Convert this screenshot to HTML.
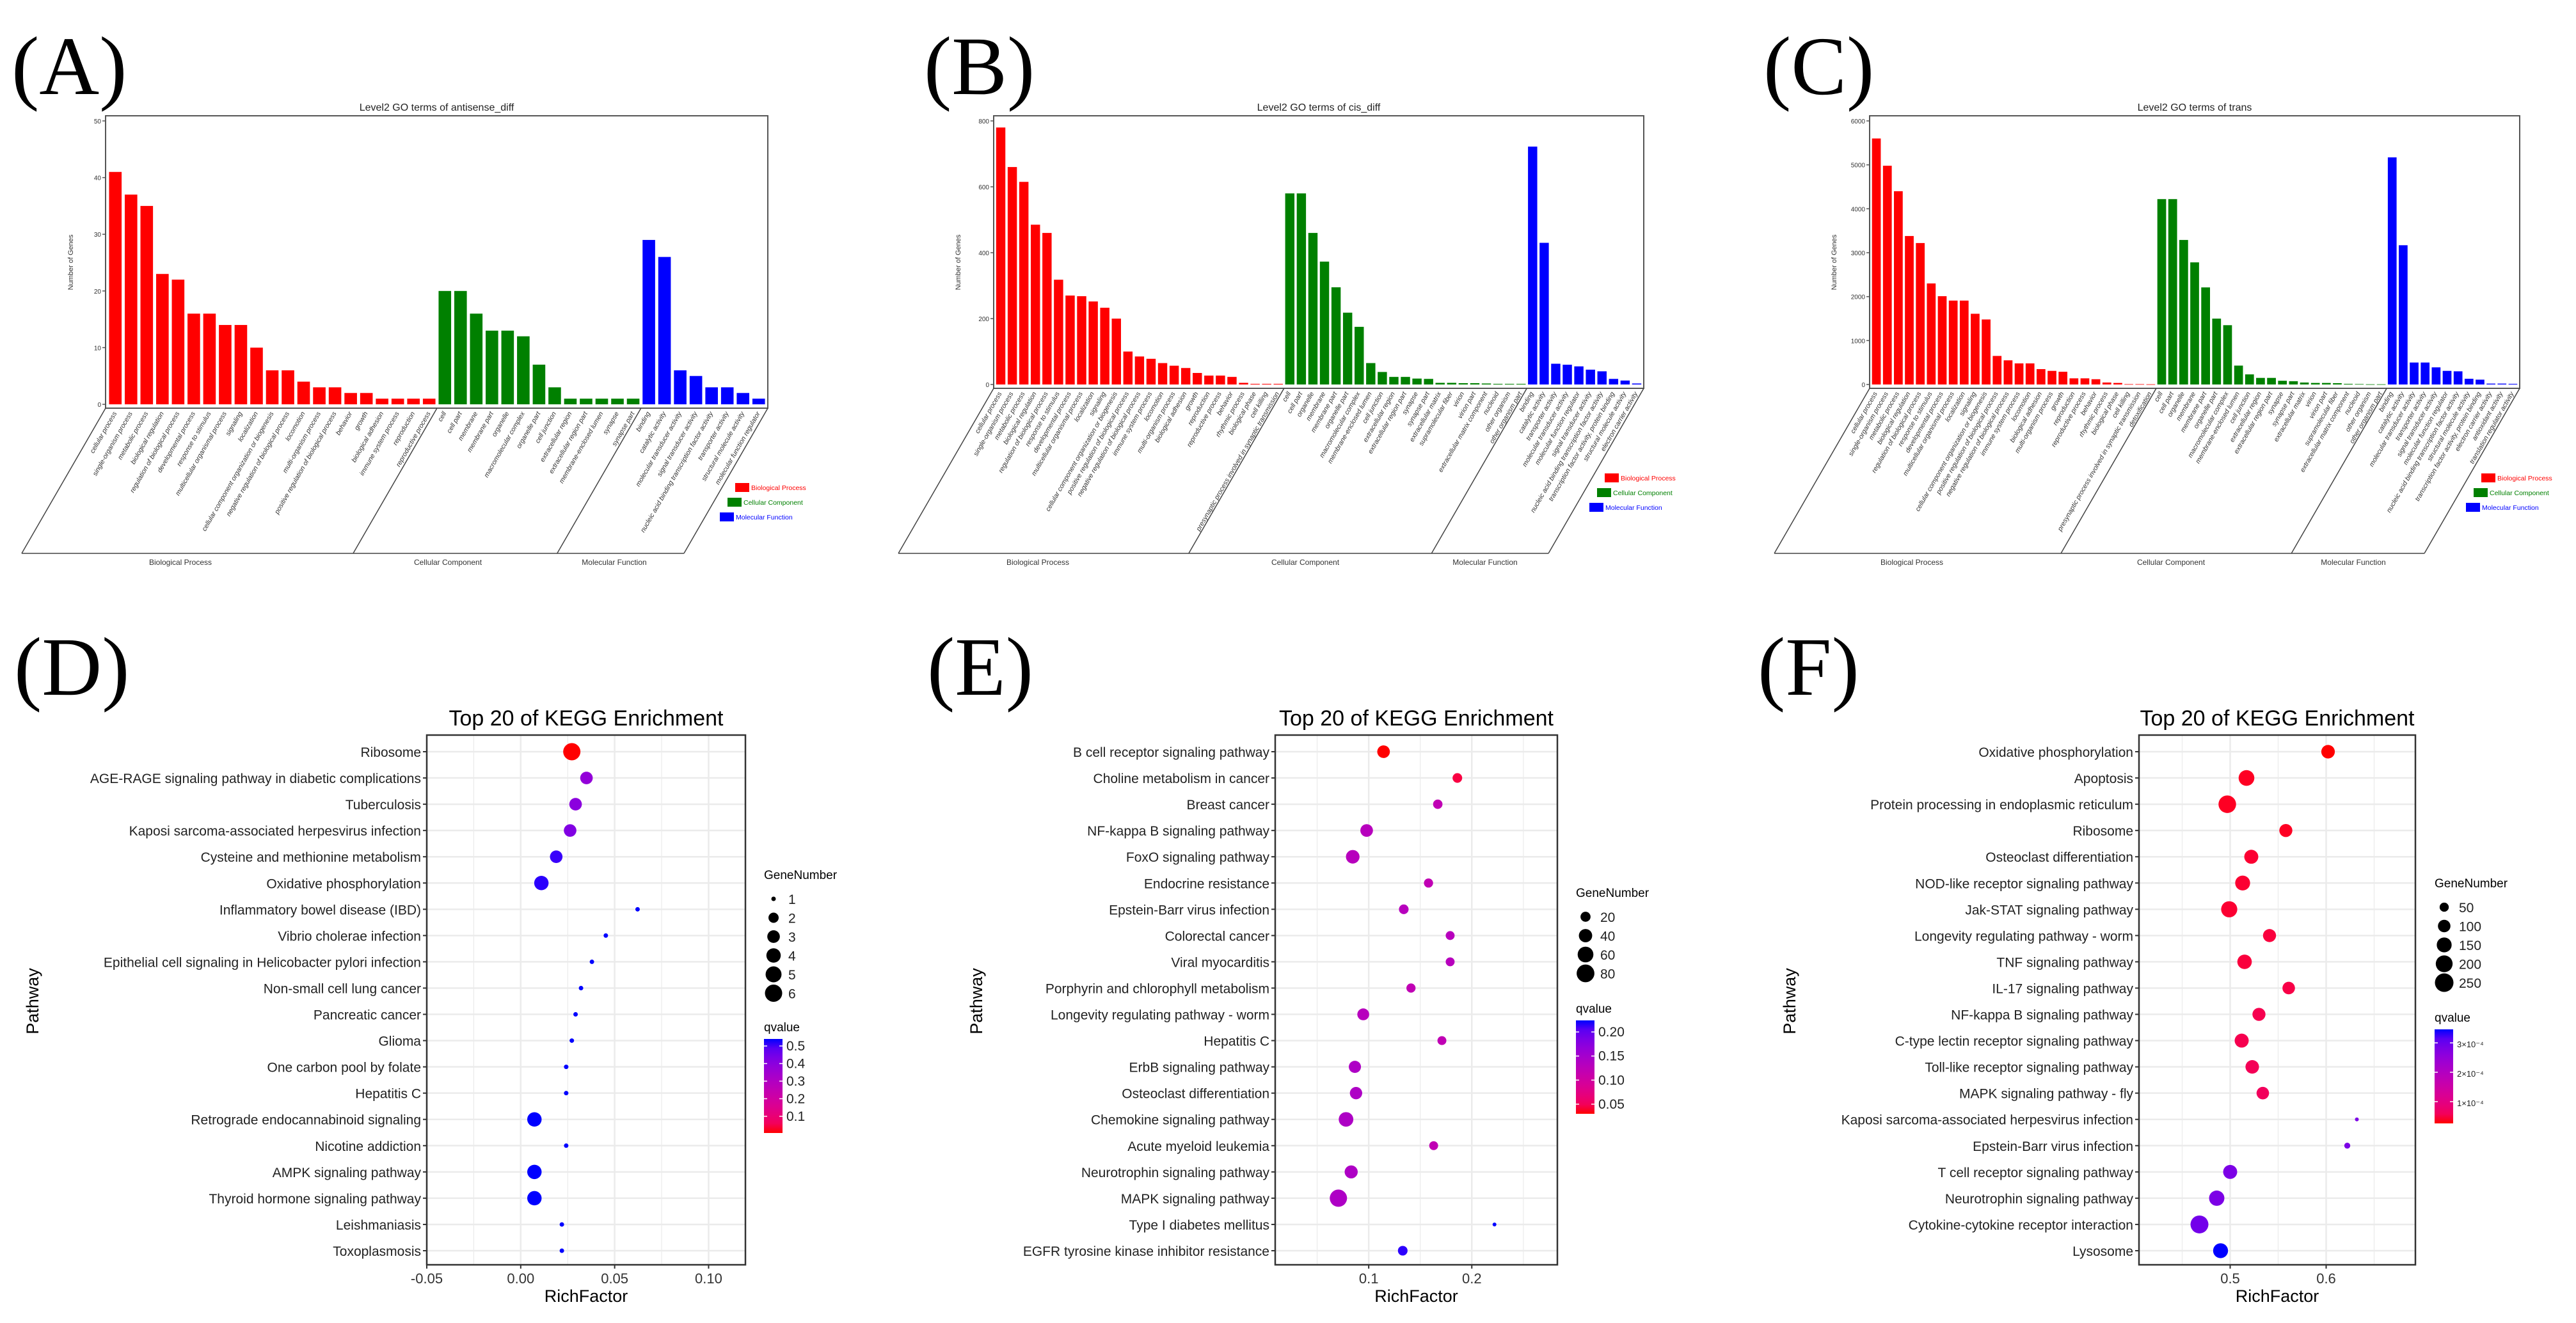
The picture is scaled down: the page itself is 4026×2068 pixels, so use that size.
<!DOCTYPE html>
<html><head><meta charset="utf-8"><style>
html,body{margin:0;padding:0;background:#fff;}
svg{display:block;font-family:"Liberation Sans",Arial,sans-serif;}
</style></head><body>
<svg id="fig" xmlns="http://www.w3.org/2000/svg" width="4026" height="2068" viewBox="0 0 4026 2068">
<rect x="0" y="0" width="4026" height="2068" fill="#fff"/>
</svg>
<script>
// ---------- GO panel data ----------
const goA_bp = [41,37,35,23,22,16,16,14,14,10,6,6,4,3,3,2,2,1,1,1,1];
const goA_cc = [20,20,16,13,13,12,7,3,1,1,1,1,1];
const goA_mf = [29,26,6,5,3,3,2,1];
const goA_bpLab = ["cellular process","single-organism process","metabolic process","biological regulation","regulation of biological process","developmental process","response to stimulus","multicellular organismal process","signaling","localization","cellular component organization or biogenesis","negative regulation of biological process","locomotion","multi-organism process","positive regulation of biological process","behavior","growth","biological adhesion","immune system process","reproduction","reproductive process"];
const goA_ccLab = ["cell","cell part","membrane","membrane part","organelle","macromolecular complex","organelle part","cell junction","extracellular region","extracellular region part","membrane-enclosed lumen","synapse","synapse part"];
const goA_mfLab = ["binding","catalytic activity","molecular transducer activity","signal transducer activity","nucleic acid binding transcription factor activity","transporter activity","structural molecule activity","molecular function regulator"];
const goA_ticks = [0,10,20,30,40,50];

const goB_bp = [780,660,615,485,460,318,270,268,252,233,200,100,85,78,65,57,50,35,27,27,23,5,2,2,2];
const goB_cc = [580,580,460,373,295,218,175,65,38,23,23,18,17,5,5,4,4,3,2,2,2];
const goB_mf = [722,430,63,60,55,45,40,17,12,3];
const goB_bpLab = ["cellular process","single-organism process","metabolic process","biological regulation","regulation of biological process","response to stimulus","developmental process","multicellular organismal process","localization","signaling","cellular component organization or biogenesis","positive regulation of biological process","negative regulation of biological process","immune system process","locomotion","multi-organism process","biological adhesion","growth","reproduction","reproductive process","behavior","rhythmic process","biological phase","cell killing","presynaptic process involved in synaptic transmission"];
const goB_ccLab = ["cell","cell part","organelle","membrane","membrane part","organelle part","macromolecular complex","membrane-enclosed lumen","cell junction","extracellular region","extracellular region part","synapse","synapse part","extracellular matrix","supramolecular fiber","virion","virion part","extracellular matrix component","nucleoid","other organism","other organism part"];
const goB_mfLab = ["binding","catalytic activity","transporter activity","molecular transducer activity","molecular function regulator","signal transducer activity","nucleic acid binding transcription factor activity","transcription factor activity, protein binding","structural molecule activity","electron carrier activity"];
const goB_ticks = [0,200,400,600,800];

const goC_bp = [5600,4980,4400,3380,3220,2300,2010,1910,1910,1610,1480,650,550,480,480,350,310,290,140,140,120,45,35,8,8,5];
const goC_cc = [4220,4220,3290,2780,2210,1500,1350,430,230,150,150,85,75,45,35,35,30,15,10,5,5];
const goC_mf = [5170,3170,500,500,390,310,300,130,110,20,20,15];
const goC_bpLab = ["cellular process","single-organism process","metabolic process","biological regulation","regulation of biological process","response to stimulus","developmental process","multicellular organismal process","localization","signaling","cellular component organization or biogenesis","positive regulation of biological process","negative regulation of biological process","immune system process","locomotion","biological adhesion","multi-organism process","growth","reproduction","reproductive process","behavior","rhythmic process","biological phase","cell killing","presynaptic process involved in synaptic transmission","detoxification"];
const goC_ccLab = ["cell","cell part","organelle","membrane","membrane part","organelle part","macromolecular complex","membrane-enclosed lumen","cell junction","extracellular region","extracellular region part","synapse","synapse part","extracellular matrix","virion","virion part","supramolecular fiber","extracellular matrix component","nucleoid","other organism","other organism part"];
const goC_mfLab = ["binding","catalytic activity","molecular transducer activity","transporter activity","signal transducer activity","molecular function regulator","nucleic acid binding transcription factor activity","structural molecule activity","transcription factor activity, protein binding","electron carrier activity","antioxidant activity","translation regulator activity"];
const goC_ticks = [0,1000,2000,3000,4000,5000,6000];

// ---------- KEGG panel data ----------
const kD_path = ["Ribosome","AGE-RAGE signaling pathway in diabetic complications","Tuberculosis","Kaposi sarcoma-associated herpesvirus infection","Cysteine and methionine metabolism","Oxidative phosphorylation","Inflammatory bowel disease (IBD)","Vibrio cholerae infection","Epithelial cell signaling in Helicobacter pylori infection","Non-small cell lung cancer","Pancreatic cancer","Glioma","One carbon pool by folate","Hepatitis C","Retrograde endocannabinoid signaling","Nicotine addiction","AMPK signaling pathway","Thyroid hormone signaling pathway","Leishmaniasis","Toxoplasmosis"];
const kD_rich = [0.0272,0.035,0.0292,0.0263,0.0189,0.011,0.0622,0.0453,0.0379,0.0321,0.0292,0.0272,0.0242,0.0242,0.0073,0.0242,0.0073,0.0073,0.0219,0.0219];
const kD_gene = [6,3,3,3,3,4,1,1,1,1,1,1,1,1,4,1,4,4,1,1];
const kD_q = [0.005,0.38,0.40,0.42,0.52,0.53,0.54,0.54,0.54,0.54,0.54,0.54,0.54,0.54,0.54,0.54,0.54,0.54,0.54,0.54];
const kD_xticks = [-0.05,0,0.05,0.1];
const kD_xlabels = ["-0.05","0.00","0.05","0.10"];
const kD_sizeBreaks = [1,2,3,4,5,6];
const kD_qBreaks = [0.1,0.2,0.3,0.4,0.5];
const kD_qLabels = ["0.1","0.2","0.3","0.4","0.5"];

const kE_path = ["B cell receptor signaling pathway","Choline metabolism in cancer","Breast cancer","NF-kappa B signaling pathway","FoxO signaling pathway","Endocrine resistance","Epstein-Barr virus infection","Colorectal cancer","Viral myocarditis","Porphyrin and chlorophyll metabolism","Longevity regulating pathway - worm","Hepatitis C","ErbB signaling pathway","Osteoclast differentiation","Chemokine signaling pathway","Acute myeloid leukemia","Neurotrophin signaling pathway","MAPK signaling pathway","Type I diabetes mellitus","EGFR tyrosine kinase inhibitor resistance"];
const kE_rich = [0.1144,0.186,0.167,0.098,0.0845,0.158,0.134,0.179,0.179,0.141,0.0947,0.171,0.0866,0.0877,0.078,0.163,0.083,0.0706,0.222,0.133];
const kE_gene = [35,18,17,35,42,16,18,15,15,16,30,15,32,33,50,15,38,75,5,18];
const kE_q = [0.03,0.04,0.12,0.13,0.13,0.12,0.13,0.13,0.13,0.12,0.13,0.12,0.14,0.14,0.14,0.12,0.14,0.14,0.224,0.22];
const kE_xticks = [0.1,0.2];
const kE_xlabels = ["0.1","0.2"];
const kE_sizeBreaks = [20,40,60,80];
const kE_qBreaks = [0.05,0.10,0.15,0.20];
const kE_qLabels = ["0.05","0.10","0.15","0.20"];

const kF_path = ["Oxidative phosphorylation","Apoptosis","Protein processing in endoplasmic reticulum","Ribosome","Osteoclast differentiation","NOD-like receptor signaling pathway","Jak-STAT signaling pathway","Longevity regulating pathway - worm","TNF signaling pathway","IL-17 signaling pathway","NF-kappa B signaling pathway","C-type lectin receptor signaling pathway","Toll-like receptor signaling pathway","MAPK signaling pathway - fly","Kaposi sarcoma-associated herpesvirus infection","Epstein-Barr virus infection","T cell receptor signaling pathway","Neurotrophin signaling pathway","Cytokine-cytokine receptor interaction","Lysosome"];
const kF_rich = [0.602,0.517,0.497,0.558,0.522,0.513,0.499,0.541,0.515,0.561,0.530,0.512,0.523,0.534,0.632,0.622,0.500,0.486,0.468,0.490];
const kF_gene = [120,170,220,110,130,150,180,110,140,100,110,130,120,100,20,25,130,160,230,150];
const kF_q = [0.26,0.3,0.3,0.3,0.35,0.35,0.35,0.4,0.4,0.45,0.5,0.5,0.55,0.6,2.8,2.8,2.8,2.8,2.9,3.46];
const kF_xticks = [0.5,0.6];
const kF_xlabels = ["0.5","0.6"];
const kF_sizeBreaks = [50,100,150,200,250];
const kF_qBreaks = [1,2,3];
const kF_qLabels = ["1×10⁻⁴","2×10⁻⁴","3×10⁻⁴"];

// ---------- helpers ----------
const NS = "http://www.w3.org/2000/svg";
const svg = document.getElementById('fig');
function mk(tag, attrs, parent, text) {
  const e = document.createElementNS(NS, tag);
  for (const k in attrs) e.setAttribute(k, attrs[k]);
  if (text !== undefined) e.textContent = text;
  (parent || svg).appendChild(e);
  return e;
}
function col(t) {
  t = Math.max(0, Math.min(1, t));
  const r = Math.round(255 * Math.pow(1 - t, 0.4545));
  const b = Math.round(255 * Math.pow(t, 0.4545));
  return `rgb(${r},0,${b})`;
}
function panelLabel(txt, x, y) {
  const t = mk('text', {x: x, y: y, 'font-family': '"Liberation Serif","Times New Roman",serif', 'font-size': 130, fill: '#000'}, svg, txt);
  
  
}

// ---------- GO bar chart ----------
function drawGO(c, bp, cc, mf, bpLab, ccLab, mfLab, ticks) {
  const g = mk('g', {});
  
  
  const ymax = ticks[ticks.length - 1];
  const yS = v => c.y0 - (v / ymax) * (c.y0 - c.yTop);
  const vals = bp.concat(cc, mf);
  const labs = bpLab.concat(ccLab, mfLab);
  const N = vals.length;
  const pitch = (c.barEnd - c.barStart) / N;
  const colors = ['#ff0000', '#008000', '#0000ff'];
  const grp = i => i < bp.length ? 0 : (i < bp.length + cc.length ? 1 : 2);
  const tt = mk('text', {x: (c.bx0 + c.bx1) / 2, y: 173, 'text-anchor': 'middle', 'font-size': 16, fill: '#222'}, g, c.title);
  
  
  const bx = mk('rect', {x: c.bx0, y: 181, width: c.bx1 - c.bx0, height: c.by1 - 181, fill: 'none', stroke: '#555', 'stroke-width': 2}, g);
  
  
  ticks.forEach(v => {
    const y = yS(v);
    mk('line', {x1: c.bx0 - 5, x2: c.bx0, y1: y, y2: y, stroke: '#555', 'stroke-width': 1.5}, g);
    const tl = mk('text', {x: c.bx0 - 7, y: y + 4, 'text-anchor': 'end', 'font-size': 10, fill: '#333'}, g, String(v));
    
    
  });
  const yt = mk('text', {x: c.ytx, y: 410, 'text-anchor': 'middle', 'font-size': 11, fill: '#333', transform: `rotate(-90 ${c.ytx} 410)`}, g, 'Number of Genes');
  
  
  vals.forEach((v, i) => {
    const x = c.barStart + i * pitch + pitch * 0.1;
    const y = yS(v);
    const r = mk('rect', {x: x, y: y, width: pitch * 0.8, height: Math.max(0.8, c.y0 - y), fill: colors[grp(i)]}, g);
    
    
    const ax = x + pitch * 0.5, ay = c.by1 + 8;
    const lt = mk('text', {x: ax, y: ay, 'text-anchor': 'end', 'font-size': 10.5, 'font-style': 'italic', fill: '#333', transform: `rotate(-60 ${ax} ${ay})`}, g, labs[i]);
    
    
  });
  const dx = (865 - c.by1) / Math.tan(Math.PI / 3);
  const d1 = c.barStart + bp.length * pitch, d2 = c.barStart + (bp.length + cc.length) * pitch;
  const tops = [c.bx0, d1, d2, c.bx1];
  tops.forEach(tx => {
    mk('line', {x1: tx, y1: c.by1, x2: tx - dx, y2: 865, stroke: '#444', 'stroke-width': 1.5}, g);
  });
  mk('line', {x1: c.bx0 - dx, y1: 865, x2: c.bx1 - dx, y2: 865, stroke: '#444', 'stroke-width': 1.5}, g);
  const gnames = ['Biological Process', 'Cellular Component', 'Molecular Function'];
  c.glx.forEach((gx, k) => {
    const gl = mk('text', {x: gx, y: 883, 'text-anchor': 'middle', 'font-size': 12, fill: '#333'}, g, gnames[k]);
    
    
  });
  gnames.forEach((n, k) => {
    const lx = c.legX - k * 12, ly = c.legY + k * 23;
    const lr = mk('rect', {x: lx, y: ly - 9, width: 22, height: 14, fill: colors[k]}, g);
    
    
    const lt = mk('text', {x: lx + 25, y: ly + 2, 'font-size': 10.5, fill: colors[k]}, g, n);
    
    
  });
}

// ---------- KEGG dot plot ----------
function drawKEGG(c, paths, rich, gene, q, xticks, xlabels, sizeBreaks, qBreaks, qLabels) {
  const g = mk('g', {});
  
  
  const top = 1149, bot = 1977;
  const xS = v => c.px0 + (v - c.xmin) / (c.xmax - c.xmin) * (c.px1 - c.px0);
  const rowY = i => 1175 + i * (1955 - 1175) / (paths.length - 1);
  const gmin = Math.min(...gene), gmax = Math.max(...gene);
  const rad = v => { const t = gmax > gmin ? Math.max(0, (v - gmin) / (gmax - gmin)) : 0; return c.rmin + (c.rmax - c.rmin) * Math.sqrt(t); };
  const qmin = Math.min(...q), qmax = Math.max(...q);
  const qt = v => (v - qmin) / (qmax - qmin);
  const tt = mk('text', {x: (c.px0 + c.px1) / 2, y: 1134, 'text-anchor': 'middle', 'font-size': 34, fill: '#000'}, g, 'Top 20 of KEGG Enrichment');
  
  
  const step = xticks.length > 1 ? xticks[1] - xticks[0] : 0.1;
  for (let v = xticks[0] - step * 3; v <= c.xmax + 1e-9; v += step / 2) {
    if (v < c.xmin - 1e-9) continue;
    const major = Math.abs(Math.round(v / step) * step - v) < 1e-9;
    mk('line', {x1: xS(v), x2: xS(v), y1: top, y2: bot, stroke: '#ebebeb', 'stroke-width': major ? 2.5 : 1.2}, g);
  }
  paths.forEach((p, i) => {
    mk('line', {x1: c.px0, x2: c.px1, y1: rowY(i), y2: rowY(i), stroke: '#ebebeb', 'stroke-width': 2.5}, g);
  });
  paths.forEach((p, i) => {
    const cc = mk('circle', {cx: xS(rich[i]), cy: rowY(i), r: rad(gene[i]), fill: col(qt(q[i]))}, g);
    
    
    mk('line', {x1: c.px0 - 6, x2: c.px0, y1: rowY(i), y2: rowY(i), stroke: '#333', 'stroke-width': 2}, g);
    const lt = mk('text', {x: c.px0 - 9, y: rowY(i) + 8, 'text-anchor': 'end', 'font-size': 21, fill: '#222'}, g, p);
    
    
  });
  const fr = mk('rect', {x: c.px0, y: top, width: c.px1 - c.px0, height: bot - top, fill: 'none', stroke: '#333', 'stroke-width': 2.5}, g);
  
  
  xticks.forEach((v, k) => {
    mk('line', {x1: xS(v), x2: xS(v), y1: bot, y2: bot + 6, stroke: '#333', 'stroke-width': 2}, g);
    const tl = mk('text', {x: xS(v), y: 2006, 'text-anchor': 'middle', 'font-size': 22, fill: '#333'}, g, xlabels[k]);
    
    
  });
  const xt = mk('text', {x: (c.px0 + c.px1) / 2, y: 2035, 'text-anchor': 'middle', 'font-size': 27, fill: '#000'}, g, 'RichFactor');
  
  
  const yt = mk('text', {x: c.ytx, y: 1565, 'text-anchor': 'middle', 'font-size': 27, fill: '#000', transform: `rotate(-90 ${c.ytx} 1565)`}, g, 'Pathway');
  
  
  const st = mk('text', {x: c.lx, y: c.sy, 'font-size': 19, fill: '#000'}, g, 'GeneNumber');
  
  
  sizeBreaks.forEach((b, k) => {
    const y = c.sy + 31 + k * 29.5;
    const sc = mk('circle', {cx: c.lx + 15, cy: y, r: rad(b), fill: '#000'}, g);
    
    
    const sl = mk('text', {x: c.lx + 38, y: y + 8, 'font-size': 21, fill: '#222'}, g, String(b));
    
    
  });
  const qtitle = mk('text', {x: c.lx, y: c.cbTop - 12, 'font-size': 19, fill: '#000'}, g, 'qvalue');
  
  
  const gid = 'grad' + c.name;
  const defs = mk('defs', {}, g);
  const lg = mk('linearGradient', {id: gid, x1: 0, y1: 0, x2: 0, y2: 1}, defs);
  for (let k = 0; k <= 10; k++) mk('stop', {offset: k / 10, 'stop-color': col(1 - k / 10)}, lg);
  const cbH = c.cbBot - c.cbTop;
  const cb = mk('rect', {x: c.lx, y: c.cbTop, width: 29, height: cbH, fill: `url(#${gid})`}, g);
  
  
  qBreaks.forEach((b, k) => {
    const y = c.cbBot - qt(b) * cbH;
    mk('line', {x1: c.lx, x2: c.lx + 5, y1: y, y2: y, stroke: '#fff', 'stroke-width': 1.5}, g);
    mk('line', {x1: c.lx + 24, x2: c.lx + 29, y1: y, y2: y, stroke: '#fff', 'stroke-width': 1.5}, g);
    const cl = mk('text', {x: c.lx + 35, y: y + 7, 'font-size': c.qfs, fill: '#222'}, g, qLabels[k]);
    
    
  });
}

// ---------- render ----------
panelLabel('(A)', 18, 147);
panelLabel('(B)', 1444, 147);
panelLabel('(C)', 2756, 147);
panelLabel('(D)', 22, 1086);
panelLabel('(E)', 1449, 1086);
panelLabel('(F)', 2747, 1086);

drawGO({name: 'go-chart-a', title: 'Level2 GO terms of antisense_diff', bx0: 165, bx1: 1200, by1: 638, y0: 632, yTop: 189, barStart: 168, barEnd: 1198, ytx: 114, glx: [282, 700, 960], legX: 1149, legY: 764}, goA_bp, goA_cc, goA_mf, goA_bpLab, goA_ccLab, goA_mfLab, goA_ticks);
drawGO({name: 'go-chart-b', title: 'Level2 GO terms of cis_diff', bx0: 1553, bx1: 2569, by1: 607, y0: 601, yTop: 189, barStart: 1555, barEnd: 2567, ytx: 1501, glx: [1622, 2040, 2321], legX: 2508, legY: 749}, goB_bp, goB_cc, goB_mf, goB_bpLab, goB_ccLab, goB_mfLab, goB_ticks);
drawGO({name: 'go-chart-c', title: 'Level2 GO terms of trans', bx0: 2922, bx1: 3938, by1: 607, y0: 601, yTop: 189, barStart: 2924, barEnd: 3936, ytx: 2870, glx: [2988, 3393, 3678], legX: 3878, legY: 749}, goC_bp, goC_cc, goC_mf, goC_bpLab, goC_ccLab, goC_mfLab, goC_ticks);

drawKEGG({name: 'kegg-chart-d', px0: 667, px1: 1165, xmin: -0.05, xmax: 0.1196, rmin: 3.5, rmax: 13.5, ytx: 60, lx: 1194, sy: 1374, cbTop: 1624, cbBot: 1771, qfs: 21}, kD_path, kD_rich, kD_gene, kD_q, kD_xticks, kD_xlabels, kD_sizeBreaks, kD_qBreaks, kD_qLabels);
drawKEGG({name: 'kegg-chart-e', px0: 1993, px1: 2434, xmin: 0.0093, xmax: 0.283, rmin: 3, rmax: 13.5, ytx: 1535, lx: 2463, sy: 1402, cbTop: 1595, cbBot: 1741, qfs: 21}, kE_path, kE_rich, kE_gene, kE_q, kE_xticks, kE_xlabels, kE_sizeBreaks, kE_qBreaks, kE_qLabels);
drawKEGG({name: 'kegg-chart-f', px0: 3343, px1: 3775, xmin: 0.405, xmax: 0.693, rmin: 3, rmax: 14, ytx: 2806, lx: 3805, sy: 1387, cbTop: 1609, cbBot: 1756, qfs: 13}, kF_path, kF_rich, kF_gene, kF_q, kF_xticks, kF_xlabels, kF_sizeBreaks, kF_qBreaks, kF_qLabels);
</script>
</body></html>
